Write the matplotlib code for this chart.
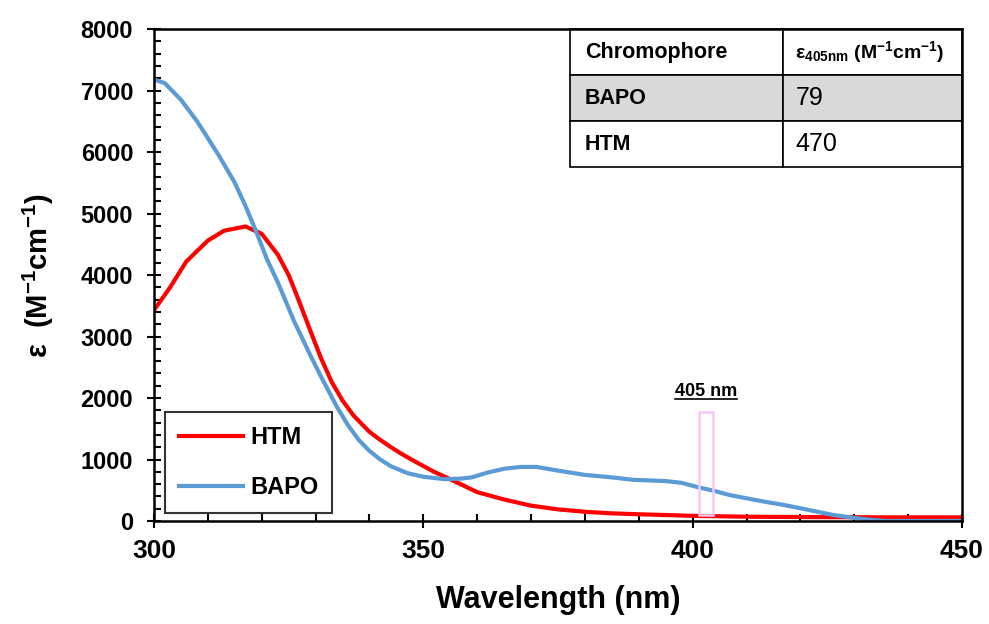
import numpy as np
import matplotlib
matplotlib.use("Agg")
import matplotlib.pyplot as plt
from matplotlib.patches import Rectangle
from matplotlib.lines import Line2D
from matplotlib.ticker import MultipleLocator

plt.rcParams['font.family'] = ['Liberation Sans', 'DejaVu Sans']
plt.rcParams['font.weight'] = 'bold'
plt.rcParams['mathtext.fontset'] = 'custom'
plt.rcParams['mathtext.rm'] = 'Liberation Sans:bold'
plt.rcParams['mathtext.default'] = 'rm'

# HTM spectrum
htm_wl = [300, 303, 306, 310, 313, 317, 320, 323, 325, 327, 329, 331, 333,
          335, 337, 340, 342, 344, 346, 348, 352, 355, 360, 365, 370, 375,
          380, 385, 390, 400, 410, 420, 435, 450]
htm_eps = [3430, 3800, 4220, 4560, 4720, 4790, 4670, 4330, 4000, 3560, 3100,
           2650, 2260, 1960, 1720, 1450, 1320, 1200, 1090, 990, 800, 680, 470,
           350, 250, 190, 150, 125, 110, 85, 70, 65, 60, 60]

# BAPO spectrum
bapo_wl = [300, 302, 305, 308, 312, 315, 317, 319, 321, 323, 326, 329, 331,
           334, 336, 338, 340, 342, 344, 347, 350, 354, 357, 359, 362, 365,
           368, 371, 375, 380, 385, 389, 395, 398, 401, 404, 407, 410, 413,
           417, 421, 426, 430, 433, 436, 450]
bapo_eps = [7180, 7120, 6850, 6500, 5950, 5500, 5120, 4700, 4250, 3880, 3250,
            2700, 2350, 1850, 1560, 1320, 1140, 1000, 890, 780, 720, 680, 690,
            710, 790, 850, 880, 880, 820, 750, 710, 670, 650, 620, 550, 490,
            420, 370, 320, 260, 190, 100, 50, 20, 0, 0]

# table content
tbl_header = ["Chromophore", "ε$_{405nm}$ (M$^{-1}$cm$^{-1}$)"]
tbl_names = ["BAPO", "HTM"]
tbl_values = ["79", "470"]

# 405 nm marker box
mark_x0, mark_x1 = 401.1, 403.8
mark_y0, mark_y1 = 100, 1770

fig = plt.figure(figsize=(9.89, 6.24), dpi=100)
ax = fig.add_axes([0.1557, 0.165, 0.817, 0.7885])

ax.plot(htm_wl, htm_eps, color='#ff0000', lw=3.0, label='HTM')
ax.plot(bapo_wl, bapo_eps, color='#5b9bd5', lw=3.0, label='BAPO')

ax.add_patch(Rectangle((mark_x0, mark_y0), mark_x1 - mark_x0, mark_y1 - mark_y0,
                       fill=False, edgecolor='#f7c8f3', lw=1.8, zorder=3))
lbl = ax.text((mark_x0 + mark_x1) / 2, mark_y1 + 200, '405 nm',
              ha='center', va='bottom', fontsize=13, fontweight='bold')

ax.set_xlim(300, 450)
ax.set_ylim(0, 8000)
ax.xaxis.set_major_locator(MultipleLocator(50))
ax.xaxis.set_minor_locator(MultipleLocator(10))
ax.yaxis.set_major_locator(MultipleLocator(1000))
ax.yaxis.set_minor_locator(MultipleLocator(200))
ax.tick_params(which='major', direction='inout', length=10, width=1.5,
               top=False, right=False)
ax.tick_params(which='minor', direction='in', length=5, width=1.5,
               top=False, right=False)
ax.tick_params(axis='x', labelsize=19, pad=8)
ax.tick_params(axis='y', labelsize=17, pad=10)
for s in ax.spines.values():
    s.set_linewidth(1.8)

ax.set_xlabel('Wavelength (nm)', fontsize=22, fontweight='bold', labelpad=16)
ax.set_ylabel('ε  (M$^{-1}$cm$^{-1}$)', fontsize=21,
              fontweight='bold', labelpad=18)

leg = ax.legend(loc='lower left', bbox_to_anchor=(0.0136, 0.016),
                borderaxespad=0, fontsize=17, frameon=True, fancybox=False,
                handlelength=2.7, labelspacing=1.15, borderpad=0.6,
                handletextpad=0.3)
leg.get_frame().set_edgecolor('black')
leg.get_frame().set_linewidth(1.5)
for t in leg.get_texts():
    t.set_fontweight('bold')

cells = [tbl_header] + [[n, v] for n, v in zip(tbl_names, tbl_values)]
colours = [['white', 'white'], ['#d9d9d9', '#d9d9d9'], ['white', 'white']]
tb = ax.table(cellText=cells, cellColours=colours, cellLoc='left',
              colWidths=[0.543, 0.457],
              bbox=[0.515, 0.7195, 0.485, 0.2805])
tb.auto_set_font_size(False)
for (r, c), cell in tb.get_celld().items():
    cell.set_linewidth(1.2)
    cell.PAD = 0.07
    txt = cell.get_text()
    if c == 1 and r > 0:
        txt.set_fontsize(18)
        txt.set_fontweight('normal')
    elif r == 0 and c == 1:
        txt.set_fontsize(14)
        txt.set_fontweight('bold')
    else:
        txt.set_fontsize(15.5)
        txt.set_fontweight('bold')

# underline the "405 nm" label
fig.canvas.draw()
bb = lbl.get_window_extent()
fig.add_artist(Line2D([bb.x0, bb.x1], [bb.y0 + 1, bb.y0 + 1],
                      transform=None, color='black', lw=1.2))

fig.savefig('out.png', dpi=100)
